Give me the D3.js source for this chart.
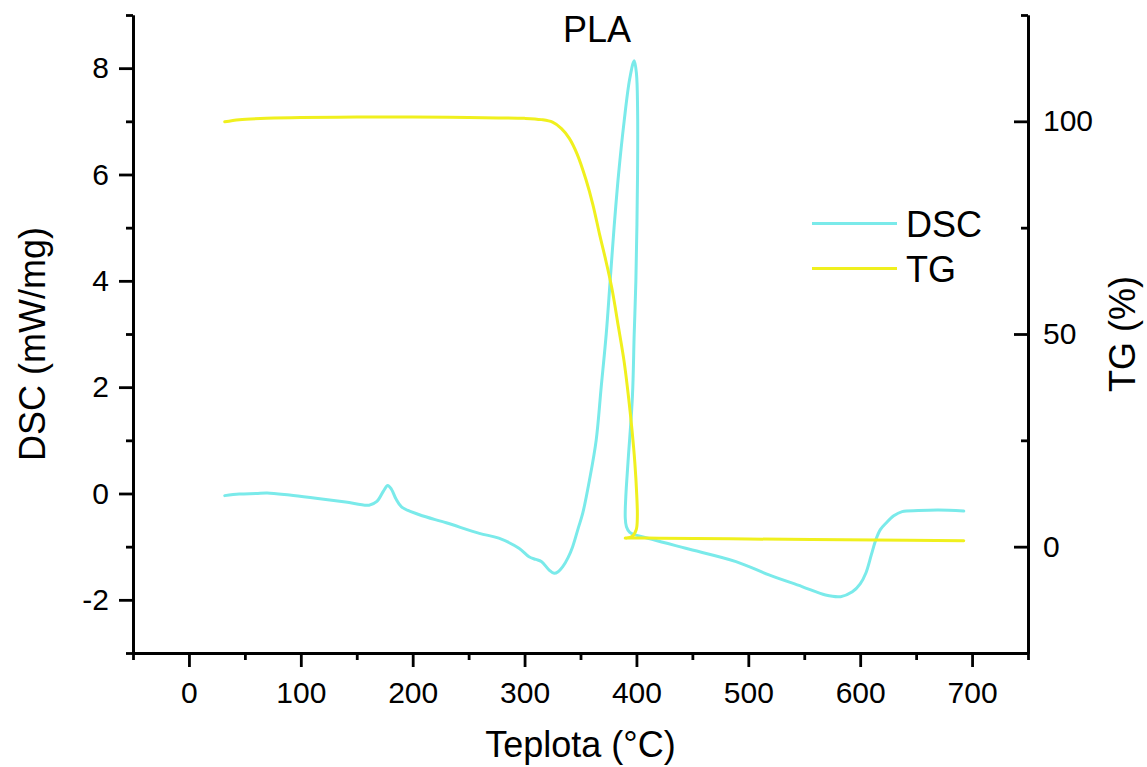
<!DOCTYPE html>
<html>
<head>
<meta charset="utf-8">
<script src="https://cdn.jsdelivr.net/npm/d3@7"></script>
<style>
  html, body { margin: 0; padding: 0; background: #ffffff; }
  svg { display: block; font-family: "Liberation Sans", Arial, sans-serif; }
</style>
</head>
<body>
<svg id="chart" width="1147" height="767"></svg>
<script>
// DSC trace (temperature °C, heat flow mW/mg), in acquisition order
const dscTemp = [32, 45, 60, 70, 90, 117, 140, 161, 168, 174, 177.7, 181, 185, 190, 206, 230, 259.6, 277, 295, 304, 310, 315, 322, 326.5, 330, 334, 339, 343, 348, 352, 358, 364, 368.5, 373, 376.5, 380, 384, 389, 394, 398, 400, 401, 401, 399.5, 398, 396.4, 392.5, 390.5, 390, 391, 394, 414, 444, 489, 518.5, 548, 569, 582.5, 593, 600, 605, 610, 614, 618, 623, 630, 637.5, 652, 670, 692.6];
const dscValue = [-0.04, -0.01, 0.0, 0.01, -0.03, -0.1, -0.16, -0.22, -0.15, 0.05, 0.15, 0.08, -0.1, -0.25, -0.40, -0.55, -0.75, -0.84, -1.03, -1.19, -1.24, -1.28, -1.44, -1.50, -1.47, -1.38, -1.2, -1.0, -0.65, -0.37, 0.25, 1.0, 2.0, 3.0, 4.0, 5.0, 6.0, 7.0, 7.8, 8.14, 7.9, 7.27, 6.02, 4.0, 3.0, 1.82, 0.6, -0.06, -0.45, -0.62, -0.73, -0.86, -1.03, -1.28, -1.53, -1.75, -1.91, -1.94, -1.85, -1.7, -1.5, -1.15, -0.87, -0.68, -0.56, -0.42, -0.34, -0.32, -0.31, -0.33];

// TG trace (temperature °C, mass %), in acquisition order
const tgTemp = [32, 45, 69, 100, 150, 200, 250, 300, 315, 325, 333, 340, 347, 355, 361, 367, 372, 378, 384, 389, 393, 396, 398.5, 400.3, 400.8, 399.8, 396, 390, 395, 420, 500, 613.7, 692.6];
const tgValue = [99.9, 100.4, 100.7, 100.9, 101.0, 101.0, 100.9, 100.7, 100.4, 99.8, 98.3, 96.0, 92.3, 86.2, 80.5, 73.5, 68, 60.8, 51.5, 43.5, 35, 27.5, 20, 12, 7, 4, 2.4, 2.0, 2.05, 2.0, 1.8, 1.57, 1.4];

// Axis ticks
const xMajor = [0, 100, 200, 300, 400, 500, 600, 700];
const xMinor = [-50, 50, 150, 250, 350, 450, 550, 650, 750];
const dscMajor = [-2, 0, 2, 4, 6, 8];
const dscMinor = [-3, -1, 1, 3, 5, 7, 9];
const tgMajor = [0, 50, 100];
const tgMinor = [-25, 25, 75, 125];

const seriesNames = ["DSC", "TG"];
const seriesColors = ["#7AEAEA", "#F0F01E"];

const svg = d3.select("#chart");
const plotLeft = 133, plotRight = 1028, plotTop = 15, plotBottom = 653;

const x = d3.scaleLinear().domain([-50, 750]).range([plotLeft, plotRight]);
const yDsc = d3.scaleLinear().domain([-3, 9]).range([plotBottom, plotTop]);
const yTg = d3.scaleLinear().domain([-25, 125]).range([plotBottom, plotTop]);

const axisStroke = 2.8;
const tickFont = 30;
const plainNumber = d => String(d);

function styleAxis(g) {
  g.selectAll("path.domain").attr("stroke", "#000").attr("stroke-width", axisStroke);
  g.selectAll(".tick line").attr("stroke", "#000").attr("stroke-width", axisStroke);
  g.selectAll(".tick text").attr("fill", "#000").attr("font-size", tickFont)
    .attr("font-family", "Liberation Sans, Arial, sans-serif");
}

// Minor ticks (no labels)
svg.append("g").attr("transform", `translate(0,${plotBottom})`)
  .call(d3.axisBottom(x).tickValues(xMinor).tickSize(7).tickSizeOuter(0).tickFormat(""))
  .call(styleAxis);
svg.append("g").attr("transform", `translate(${plotLeft},0)`)
  .call(d3.axisLeft(yDsc).tickValues(dscMinor).tickSize(7).tickSizeOuter(0).tickFormat(""))
  .call(styleAxis);
svg.append("g").attr("transform", `translate(${plotRight},0)`)
  .call(d3.axisRight(yTg).tickValues(tgMinor).tickSize(-7).tickSizeOuter(0).tickFormat(""))
  .call(styleAxis);

// Major ticks with labels
svg.append("g").attr("transform", `translate(0,${plotBottom})`)
  .call(d3.axisBottom(x).tickValues(xMajor).tickSize(14).tickSizeOuter(0).tickPadding(15).tickFormat(plainNumber))
  .call(styleAxis);
svg.append("g").attr("transform", `translate(${plotLeft},0)`)
  .call(d3.axisLeft(yDsc).tickValues(dscMajor).tickSize(14).tickSizeOuter(0).tickPadding(10).tickFormat(plainNumber))
  .call(styleAxis);
svg.append("g").attr("transform", `translate(${plotRight},0)`)
  .call(d3.axisRight(yTg).tickValues(tgMajor).tickSize(-14).tickSizeOuter(0).tickPadding(15).tickFormat(plainNumber))
  .call(styleAxis);

// Curves
const dscPts = dscTemp.map((t, i) => [t, dscValue[i]]);
const tgPts = tgTemp.map((t, i) => [t, tgValue[i]]);

const dscLine = d3.line().x(d => x(d[0])).y(d => yDsc(d[1])).curve(d3.curveCatmullRom.alpha(0.5));
const tgLine = d3.line().x(d => x(d[0])).y(d => yTg(d[1])).curve(d3.curveCatmullRom.alpha(0.5));

svg.append("path").datum(dscPts).attr("d", dscLine)
  .attr("fill", "none").attr("stroke", seriesColors[0]).attr("stroke-width", 3)
  .attr("stroke-linejoin", "round").attr("stroke-linecap", "round");
svg.append("path").datum(tgPts).attr("d", tgLine)
  .attr("fill", "none").attr("stroke", seriesColors[1]).attr("stroke-width", 3)
  .attr("stroke-linejoin", "round").attr("stroke-linecap", "round");

// Legend
const legend = svg.append("g");
seriesNames.forEach((name, i) => {
  const ly = 223.5 + i * 45;
  legend.append("line").attr("x1", 812).attr("x2", 897).attr("y1", ly).attr("y2", ly)
    .attr("stroke", seriesColors[i]).attr("stroke-width", 3);
  legend.append("text").attr("x", 906).attr("y", ly + 13).attr("font-size", 36)
    .attr("fill", "#000").text(name);
});

// Titles
svg.append("text").attr("x", 597).attr("y", 42).attr("text-anchor", "middle")
  .attr("font-size", 36).attr("fill", "#000").text("PLA");
svg.append("text").attr("x", (plotLeft + plotRight) / 2).attr("y", 757).attr("text-anchor", "middle")
  .attr("font-size", 36).attr("fill", "#000").text("Teplota (°C)");
svg.append("text").attr("transform", `translate(45,${(plotTop + plotBottom) / 2 + 10}) rotate(-90)`)
  .attr("text-anchor", "middle").attr("font-size", 36).attr("fill", "#000").text("DSC (mW/mg)");
svg.append("text").attr("transform", `translate(1135,${(plotTop + plotBottom) / 2}) rotate(-90)`)
  .attr("text-anchor", "middle").attr("font-size", 36).attr("fill", "#000").text("TG (%)");
</script>
</body>
</html>
